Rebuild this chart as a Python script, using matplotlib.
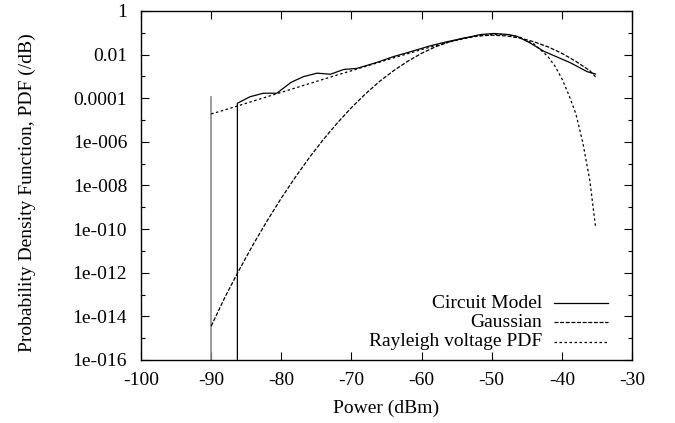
import numpy as np
import matplotlib
matplotlib.use("Agg")
import matplotlib.pyplot as plt
from matplotlib.ticker import FixedLocator, FixedFormatter

plt.rcParams['font.family'] = ['Liberation Serif', 'DejaVu Serif']

# values, y stored as log10(PDF)
circuit_power = [-86.26, -86.26, -84.45, -82.55, -80.64, -78.6, -76.85, -74.9, -73.0, -71.1,
                 -69.2, -66.5, -64.0, -61.6, -58.8, -56.4, -54.0, -51.6, -49.7, -47.6,
                 -46.4, -44.5, -42.55, -38.8, -36.4, -35.2]
circuit_log = [-16.0, -4.23, -3.93, -3.77, -3.77, -3.27, -3.01, -2.85, -2.90, -2.68,
               -2.63, -2.37, -2.09, -1.87, -1.60, -1.41, -1.25, -1.08, -1.03, -1.08,
               -1.16, -1.47, -1.85, -2.37, -2.78, -2.89]

gauss_power = [-90, -88, -86, -84, -82, -80, -78, -76, -74, -72, -70, -68, -66, -64, -62,
               -60, -58, -56, -54, -52, -50, -48, -46, -44, -42, -40, -38, -36, -35.2]
gauss_log = [-14.45, -13.10, -11.87, -10.70, -9.61, -8.58, -7.62, -6.72, -5.89, -5.13,
             -4.43, -3.80, -3.23, -2.74, -2.31, -1.94, -1.64, -1.41, -1.24, -1.14,
             -1.11, -1.14, -1.24, -1.41, -1.64, -1.94, -2.31, -2.74, -3.02]

rayleigh_power = [-90, -88, -86, -84, -82, -80, -78, -76, -74, -72, -70, -68, -66, -64,
                  -62, -60, -58, -56, -54, -52, -50, -49, -48, -46, -44, -42, -41, -40,
                  -39, -38, -37, -36, -35.2]
rayleigh_log = [-4.72, -4.53, -4.33, -4.13, -3.93, -3.73, -3.53, -3.33, -3.13, -2.93,
                -2.74, -2.54, -2.35, -2.15, -1.96, -1.77, -1.59, -1.42, -1.27, -1.15,
                -1.08, -1.07, -1.08, -1.20, -1.51, -2.08, -2.52, -3.10, -3.85, -4.72,
                -6.05, -7.80, -9.90]

cutoff_power = -90
cutoff_top = 1.1e-4

legend_labels = ["Circuit Model", "Gaussian", "Rayleigh voltage PDF"]

ytick_vals = [1e-16, 1e-14, 1e-12, 1e-10, 1e-8, 1e-6, 1e-4, 1e-2, 1]
ytick_text = ["1e-016", "1e-014", "1e-012", "1e-010", "1e-008", "1e-006", "0.0001", "0.01", "1"]
yminor_vals = [1e-15, 1e-13, 1e-11, 1e-9, 1e-7, 1e-5, 1e-3, 1e-1]
xtick_vals = [-100, -90, -80, -70, -60, -50, -40, -30]

fs = 14
lw = 0.9
gauss_dash = (3.2, 1.3)
rayleigh_dash = (2.0, 2.0)

fig = plt.figure(figsize=(6.75, 4.23), dpi=100)
ax = fig.add_axes([0.2089, 0.149, 0.7274, 0.825])

ax.plot([cutoff_power, cutoff_power], [1e-16, cutoff_top], color='#8c8c8c', lw=1.2)
ax.plot(circuit_power, 10 ** np.array(circuit_log), color='black', lw=lw)
ax.plot(gauss_power, 10 ** np.array(gauss_log), color='black', lw=lw, dashes=gauss_dash)
ax.plot(rayleigh_power, 10 ** np.array(rayleigh_log), color='black', lw=lw,
        dashes=rayleigh_dash)

ax.set_yscale('log')
ax.set_xlim(-100, -30)
ax.set_ylim(1e-16, 1)
ax.yaxis.set_major_locator(FixedLocator(ytick_vals))
ax.yaxis.set_major_formatter(FixedFormatter(ytick_text))
ax.yaxis.set_minor_locator(FixedLocator(yminor_vals))
ax.yaxis.set_minor_formatter(FixedFormatter([""] * len(yminor_vals)))
ax.set_xticks(xtick_vals)
ax.set_xticklabels([str(v) for v in xtick_vals])

ax.tick_params(which='both', direction='in', top=True, right=True, labelsize=fs,
               color='black', width=0.8)
ax.tick_params(which='major', length=6)
ax.tick_params(which='minor', length=3)
ax.tick_params(axis='x', pad=9)
ax.tick_params(axis='y', pad=10)
for s in ax.spines.values():
    s.set_linewidth(1.0)

ax.set_xlabel("Power (dBm)", fontsize=fs)
ax.set_ylabel("Probability Density Function, PDF (/dB)", fontsize=fs)
ax.xaxis.set_label_coords(0.5, -0.115)
ax.yaxis.set_label_coords(-0.214, 0.48)

# gnuplot-style key: right-aligned text followed by line sample
key_styles = [None, gauss_dash, rayleigh_dash]
for i, (lab, dash) in enumerate(zip(legend_labels, key_styles)):
    yk = 0.163 - i * 0.0555
    ax.text(0.817, yk, lab, transform=ax.transAxes, ha='right', va='center', fontsize=fs)
    kl, = ax.plot([0.841, 0.951], [yk, yk], transform=ax.transAxes, color='black', lw=lw)
    if dash is not None:
        kl.set_dashes(dash)

fig.savefig("out.png", dpi=100)
